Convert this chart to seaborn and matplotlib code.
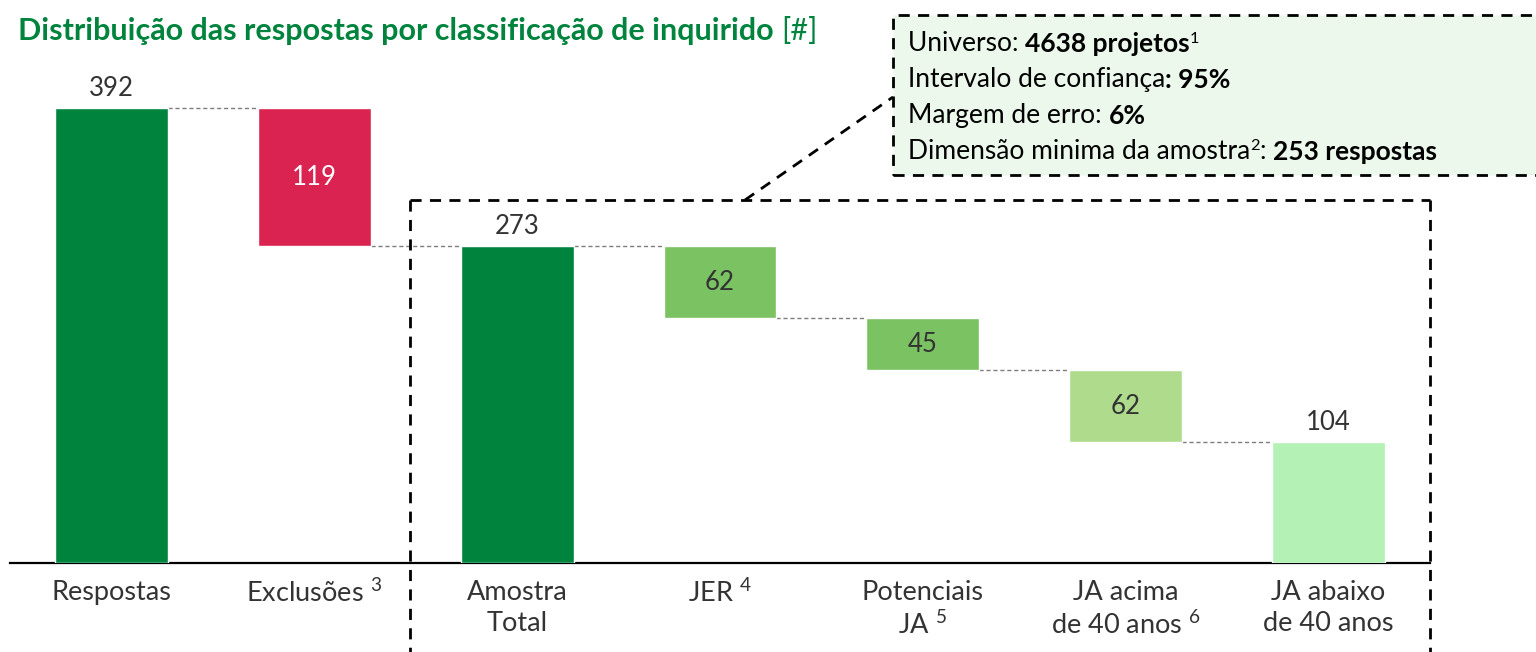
import numpy as np
import pandas as pd
import seaborn as sns
import matplotlib.pyplot as plt
from matplotlib.lines import Line2D
from matplotlib.patches import Rectangle

sns.set_style("white")
plt.rcParams['font.family'] = ['Lato', 'DejaVu Sans']
plt.rcParams['mathtext.fontset'] = 'custom'
plt.rcParams['mathtext.rm'] = 'Lato'
plt.rcParams['mathtext.it'] = 'Lato:italic'
plt.rcParams['mathtext.bf'] = 'Lato:bold'

# dados
categorias = ["Respostas", "Exclusões $^{3}$", "Amostra\nTotal", "JER $^{4}$",
              "Potenciais\nJA $^{5}$", "JA acima\nde 40 anos $^{6}$", "JA abaixo\nde 40 anos"]
valores = [392, 119, 273, 62, 45, 62, 104]
tipo = ["total", "menos", "total", "menos", "menos", "menos", "total"]
cores = ["#00843D", "#DA2350", "#00843D", "#7AC262", "#7AC262", "#AEDB8C", "#B3F1B4"]

caixa_linhas = [
    [("Universo: ", "normal"), ("4638 projetos", "bold"), ("1", "sup")],
    [("Intervalo de confiança", "normal"), (": 95%", "bold")],
    [("Margem de erro: ", "normal"), ("6%", "bold")],
    [("Dimensão minima da amostra", "normal"), ("2", "sup"), (": ", "normal"), ("253 respostas", "bold")],
]

# base de cada barra (cascata)
bases = []
nivel = 0
for v, t in zip(valores, tipo):
    if t == "total":
        bases.append(0)
        nivel = v
    else:
        nivel = nivel - v
        bases.append(nivel)

df = pd.DataFrame({"cat": categorias, "valor": valores, "base": bases, "tipo": tipo})

fig = plt.figure(figsize=(15.36, 6.52), dpi=100)
ax = fig.add_axes([10 / 1536, 1 - 563 / 652, 1420 / 1536, 455 / 652])
ax.patch.set_visible(False)

largura = 0.557
sns.barplot(data=df, x="cat", y="valor", hue="cat", palette=cores, legend=False,
            width=largura, saturation=1, ax=ax, zorder=3)
for p, b in zip(ax.patches, df["base"]):
    p.set_y(b)

ax.set_xlim(-0.5, 6.5)
ax.set_ylim(0, 392)
ax.set_xlabel("")
ax.set_ylabel("")
ax.set_yticks([])
ax.tick_params(axis="x", length=0, pad=12, labelsize=19.5, labelcolor="#333333")
for lab in ax.get_xticklabels():
    lab.set_linespacing(1.3)
for s in ["top", "right", "left"]:
    ax.spines[s].set_visible(False)
ax.spines["bottom"].set_color("black")
ax.spines["bottom"].set_linewidth(1.6)

# rótulos e conectores
for i, (v, b, t) in enumerate(zip(valores, bases, tipo)):
    if t == "total":
        ax.text(i, b + v + 6, str(v), ha="center", va="bottom", fontsize=18.5,
                color="#333333", clip_on=False)
        nivel = b + v
    else:
        ax.text(i, b + v / 2, str(v), ha="center", va="center", fontsize=18.5,
                color="#333333" if cores[i] != "#DA2350" else "white")
        nivel = b
    if i < len(valores) - 1:
        ax.plot([i + largura / 2, i + 1 - largura / 2], [nivel, nivel], color="#7f7f7f",
                lw=1, ls=(0, (3, 2)), zorder=2, clip_on=False)

# caixa tracejada da amostra
W, H = 1536, 652
def fx(px):
    return px / W
def fy(py):
    return 1 - py / H

caixa_kw = dict(color="black", lw=2, ls=(0, (4, 3)), transform=fig.transFigure)
fig.add_artist(Line2D([fx(410), fx(410)], [fy(200), fy(660)], **caixa_kw))
fig.add_artist(Line2D([fx(410), fx(1430)], [fy(200), fy(200)], **caixa_kw))
fig.add_artist(Line2D([fx(1430), fx(1430)], [fy(200), fy(660)], **caixa_kw))
fig.add_artist(Line2D([fx(745), fx(893)], [fy(200), fy(97)], **caixa_kw))

# caixa de informação
fig.add_artist(Rectangle((fx(893), fy(175)), fx(1560) - fx(893), fy(15) - fy(175),
                         transform=fig.transFigure, facecolor="#EBF8EB",
                         edgecolor="black", lw=2, ls=(0, (4, 3)), zorder=-1))

def texto_encadeado(partes, x, y, tamanho, cor):
    anterior = None
    base = None
    for txt, estilo in partes:
        peso = "bold" if estilo == "bold" else "normal"
        if estilo == "sup":
            kw = dict(xycoords=anterior, xy=(1, 0.42), fontsize=tamanho * 0.62)
        elif anterior is None:
            kw = dict(xycoords=fig.transFigure, xy=(x, y), fontsize=tamanho)
        else:
            kw = dict(xycoords=(anterior, base), xy=(1, 0), fontsize=tamanho)
        anterior = ax.annotate(txt, ha="left", va="bottom", fontweight=peso,
                               color=cor, annotation_clip=False, zorder=6, **kw)
        if estilo != "sup":
            base = anterior
    return anterior

ys = [56, 92, 128, 164]
for partes, yy in zip(caixa_linhas, ys):
    texto_encadeado(partes, fx(908), fy(yy), 19, "black")

# título
texto_encadeado([("Distribuição das respostas por classificação de inquirido ", "bold"),
                 ("[#]", "normal")], fx(18), fy(45), 22, "#00843D")

fig.savefig("out.png", dpi=100)
